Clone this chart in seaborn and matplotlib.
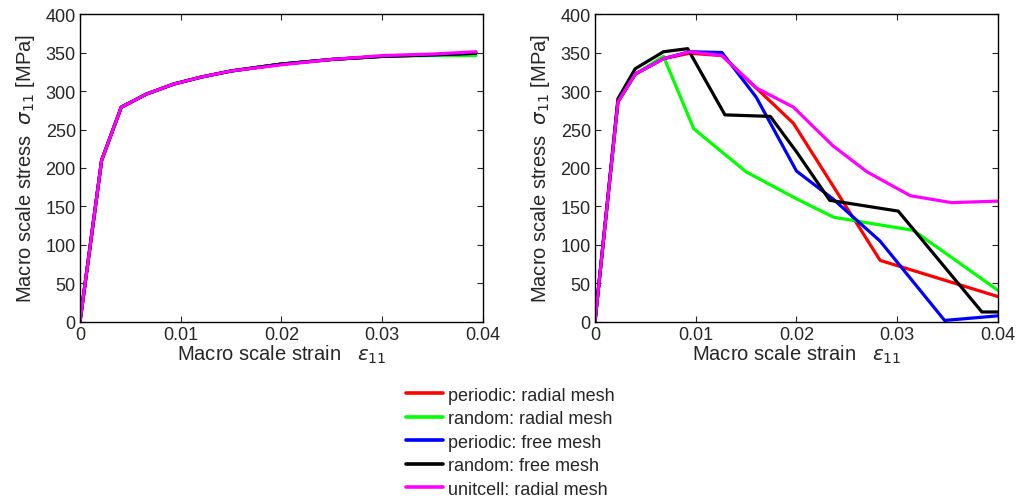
import pandas as pd
import matplotlib
matplotlib.use("Agg")
import matplotlib.pyplot as plt
import seaborn as sns

# left panel: all models coincide (hardening curve)
left_strain = [0.0, 0.00215, 0.0041, 0.0066, 0.0093, 0.012, 0.015, 0.02, 0.025, 0.03, 0.035, 0.0393]
left_stress = [0, 210, 279, 296, 309, 318, 326, 335, 341, 345, 347, 349]
left_stress_green = [0, 210, 279, 296, 309, 318, 326, 335, 341, 345, 346, 346]
left_stress_magenta = [0, 210, 279, 296, 309, 318, 326, 334, 341, 346, 348, 351]

# right panel: softening curves
red_strain = [0.0, 0.00228, 0.004, 0.0068, 0.0094, 0.0126, 0.016, 0.0197, 0.0283, 0.0303, 0.04]
red_stress = [0, 286, 322, 342, 349, 346, 304, 258, 80, 72, 33]

green_strain = [0.0, 0.00228, 0.004, 0.0068, 0.0098, 0.015, 0.02, 0.0237, 0.0316, 0.04]
green_stress = [0, 286, 322, 345, 251, 195, 160, 136, 119, 41]

blue_strain = [0.0, 0.00228, 0.004, 0.0068, 0.0094, 0.0126, 0.016, 0.02, 0.0236, 0.0283, 0.0347, 0.04]
blue_stress = [0, 286, 322, 342, 351, 350, 292, 196, 160, 105, 2, 8]

black_strain = [0.0, 0.00228, 0.004, 0.0068, 0.0092, 0.0129, 0.0174, 0.02, 0.0233, 0.0301, 0.0384, 0.04]
black_stress = [0, 290, 329, 351, 355, 269, 267, 221, 158, 144, 13, 13]

magenta_strain = [0.0, 0.00228, 0.004, 0.0068, 0.0094, 0.0126, 0.016, 0.0197, 0.0236, 0.027, 0.0313, 0.0354, 0.04]
magenta_stress = [0, 286, 322, 342, 351, 346, 304, 279, 229, 195, 164, 155, 157]

labels = ["periodic: radial mesh", "random: radial mesh", "periodic: free mesh",
          "random: free mesh", "unitcell: radial mesh"]
colors = ["#ff0000", "#00ff00", "#0000ff", "#000000", "#ff00ff"]

sns.set_style("ticks")
plt.rcParams["font.family"] = ["Liberation Sans", "DejaVu Sans"]
plt.rcParams["mathtext.fontset"] = "dejavusans"
plt.rcParams["text.color"] = "#262626"
plt.rcParams["axes.labelcolor"] = "#262626"
plt.rcParams["xtick.color"] = "#262626"
plt.rcParams["ytick.color"] = "#262626"

fig = plt.figure(figsize=(10.16, 5.02), dpi=100)
ax1 = fig.add_axes([0.0787, 0.3566, 0.3967, 0.6135])
ax2 = fig.add_axes([0.5856, 0.3566, 0.3967, 0.6135])

left_sets = [left_stress, left_stress_green, left_stress, left_stress, left_stress_magenta]
for ys, c in zip(left_sets, colors):
    sns.lineplot(x=left_strain, y=ys, color=c, linewidth=2.3, ax=ax1, sort=False)

right_sets = [(red_strain, red_stress), (green_strain, green_stress),
              (blue_strain, blue_stress), (black_strain, black_stress),
              (magenta_strain, magenta_stress)]
handles = []
for (xs, ys), c, lab in zip(right_sets, colors, labels):
    sns.lineplot(x=xs, y=ys, color=c, linewidth=2.3, ax=ax2, sort=False)
    handles.append(plt.Line2D([], [], color=c, linewidth=2.6, label=lab))

for ax in (ax1, ax2):
    ax.set_xlim(0, 0.04)
    ax.set_ylim(0, 400)
    ax.set_xticks([0, 0.01, 0.02, 0.03, 0.04])
    ax.set_xticklabels(["0", "0.01", "0.02", "0.03", "0.04"])
    ax.set_yticks(range(0, 401, 50))
    ax.tick_params(direction="in", top=True, right=True, length=4, width=0.8,
                   labelsize=13, pad=3)
    for s in ax.spines.values():
        s.set_linewidth(1.0)
        s.set_color("black")
    ax.set_xlabel(r"Macro scale strain   $\varepsilon_{11}$", fontsize=14.5, labelpad=0)
    ax.set_ylabel(r"Macro scale stress  $\sigma_{11}$ [MPa]", fontsize=14.5, labelpad=6.5)
    if ax.get_legend():
        ax.get_legend().remove()

fig.legend(handles=handles, loc="upper left", bbox_to_anchor=(0.4, 0.228),
           frameon=False, fontsize=13, handlelength=2.0, handletextpad=0.3,
           labelspacing=0.36, borderaxespad=0, borderpad=0)

fig.savefig("out.png", dpi=100)
